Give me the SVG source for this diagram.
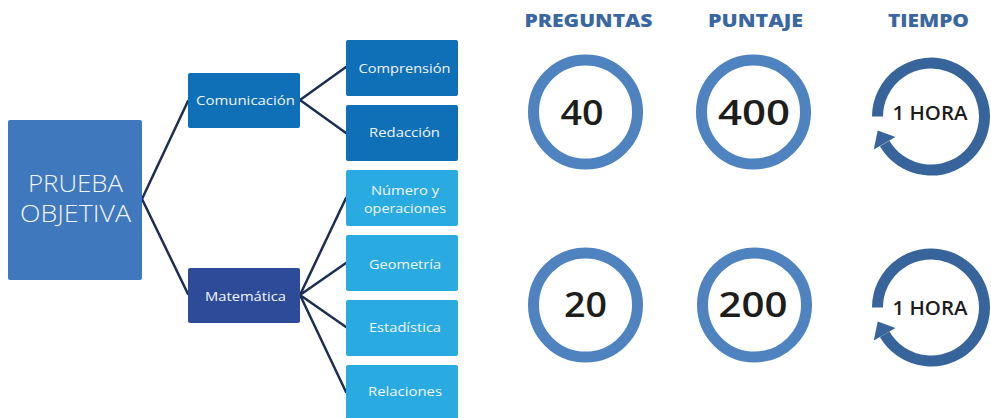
<svg xmlns="http://www.w3.org/2000/svg" width="991" height="418" viewBox="0 0 991 418">
<style>
.box{stroke:none}
.bt{font-family:"Open Sans","Noto Sans",sans-serif;fill:#f1f6fc;text-anchor:middle}
.lt{font-weight:300}
.hd{font-family:"Open Sans","Noto Sans",sans-serif;font-weight:800;fill:#3a67a1;text-anchor:middle;font-size:18px}
.num{font-family:"Open Sans","Noto Sans",sans-serif;font-weight:600;fill:#1d1d1b;text-anchor:middle;font-size:34px}
.hr{font-family:"Open Sans","Noto Sans",sans-serif;font-weight:600;fill:#1d1d1b;text-anchor:middle;font-size:19px}
.ring{fill:none;stroke:#4f83bf;stroke-width:11}
.clk{fill:none;stroke:#37649a;stroke-width:11}
.con{fill:none;stroke:#1c2f52;stroke-width:2.5;stroke-linecap:round}
</style>
<rect width="991" height="418" fill="#ffffff"/>
<g id="connectors">
<path class="con" d="M142,199 L188,101 M142,199 L188,294"/>
<path class="con" d="M300,100 L346,67 M300,100 L346,133"/>
<path class="con" d="M300,295 L346,198 M300,295 L346,263 M300,295 L346,327 M300,295 L346,392"/>
</g>
<g id="prueba">
<rect class="box" x="8" y="120" width="134" height="160" rx="2" fill="#3f78bd"/>
<text class="bt lt" x="75.5" y="192" font-size="24" textLength="95" lengthAdjust="spacingAndGlyphs">PRUEBA</text>
<text class="bt lt" x="75.5" y="222" font-size="24" textLength="111" lengthAdjust="spacingAndGlyphs">OBJETIVA</text>
</g>
<g id="comunicacion">
<rect class="box" x="188" y="73" width="112" height="55" rx="2" fill="#0f6fb7"/>
<text class="bt" x="245.5" y="105" font-size="13.5" textLength="99" lengthAdjust="spacingAndGlyphs">Comunicación</text>
</g>
<g id="matematica">
<rect class="box" x="188" y="268" width="112" height="55" rx="2" fill="#2d4b99"/>
<text class="bt" x="245.5" y="301" font-size="13.5" textLength="81" lengthAdjust="spacingAndGlyphs">Matemática</text>
</g>
<g id="comprension">
<rect class="box" x="346" y="40" width="112" height="56" rx="2" fill="#0f6fb7"/>
<text class="bt" x="404.5" y="72.5" font-size="13.5" textLength="92" lengthAdjust="spacingAndGlyphs">Comprensión</text>
</g>
<g id="redaccion">
<rect class="box" x="346" y="105" width="112" height="56" rx="2" fill="#0f6fb7"/>
<text class="bt" x="404.5" y="137" font-size="13.5" textLength="71" lengthAdjust="spacingAndGlyphs">Redacción</text>
</g>
<g id="numero">
<rect class="box" x="346" y="170" width="112" height="56" rx="2" fill="#29abe2"/>
<text class="bt" x="405" y="195" font-size="13.5" textLength="68" lengthAdjust="spacingAndGlyphs">Número y</text>
<text class="bt" x="405" y="213" font-size="13.5" textLength="82" lengthAdjust="spacingAndGlyphs">operaciones</text>
</g>
<g id="geometria">
<rect class="box" x="346" y="235" width="112" height="56" rx="2" fill="#29abe2"/>
<text class="bt" x="405" y="269" font-size="13.5" textLength="72" lengthAdjust="spacingAndGlyphs">Geometría</text>
</g>
<g id="estadistica">
<rect class="box" x="346" y="300" width="112" height="56" rx="2" fill="#29abe2"/>
<text class="bt" x="405" y="331.5" font-size="13.5" textLength="72" lengthAdjust="spacingAndGlyphs">Estadística</text>
</g>
<g id="relaciones">
<rect class="box" x="346" y="365" width="112" height="56" rx="2" fill="#29abe2"/>
<text class="bt" x="405" y="396" font-size="13.5" textLength="74" lengthAdjust="spacingAndGlyphs">Relaciones</text>
</g>
<g id="headers">
<text class="hd" x="588.5" y="27" textLength="128" lengthAdjust="spacingAndGlyphs">PREGUNTAS</text>
<text class="hd" x="755.5" y="27" textLength="95" lengthAdjust="spacingAndGlyphs">PUNTAJE</text>
<text class="hd" x="928.5" y="27" textLength="81" lengthAdjust="spacingAndGlyphs">TIEMPO</text>
</g>
<g id="preguntas40">
<circle class="ring" cx="585.5" cy="112" r="52"/>
<text class="num" x="582" y="125" textLength="43" lengthAdjust="spacingAndGlyphs">40</text>
</g>
<g id="puntaje400">
<circle class="ring" cx="753.5" cy="112" r="52"/>
<text class="num" x="754" y="125" textLength="72" lengthAdjust="spacingAndGlyphs">400</text>
</g>
<g id="tiempo1">
<path class="clk" d="M877.5,116.6 A53.5,53.5 0 1 1 884.7,143.4"/>
<polygon points="895.5,137.1 873.8,149.6 877.7,130.5" fill="#37649a"/>
<text class="hr" x="930" y="120" textLength="75" lengthAdjust="spacingAndGlyphs">1 HORA</text>
</g>
<g id="preguntas20">
<circle class="ring" cx="585.5" cy="305" r="52"/>
<text class="num" x="585.5" y="317" textLength="43" lengthAdjust="spacingAndGlyphs">20</text>
</g>
<g id="puntaje200">
<circle class="ring" cx="754.5" cy="305" r="52"/>
<text class="num" x="753" y="317" textLength="69" lengthAdjust="spacingAndGlyphs">200</text>
</g>
<g id="tiempo2">
<path class="clk" d="M877.5,307.5 A53.5,53.5 0 1 1 884.7,334.3"/>
<polygon points="895.5,328 873.8,340.5 877.7,321.4" fill="#37649a"/>
<text class="hr" x="930" y="315" textLength="75" lengthAdjust="spacingAndGlyphs">1 HORA</text>
</g>
</svg>
